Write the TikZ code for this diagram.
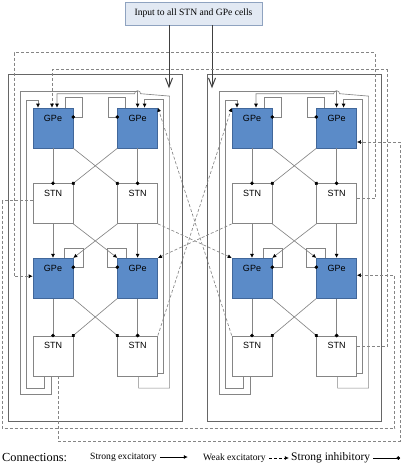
\documentclass[tikz,border=0pt]{standalone}
\usepackage{fontspec}
\setmainfont{Liberation Serif}
\setsansfont{Liberation Sans}
\usetikzlibrary{arrows.meta, positioning, calc}
\definecolor{gpefill}{HTML}{5B8BC8}
\definecolor{gpeline}{HTML}{41679A}
\definecolor{wire}{HTML}{858585}
\definecolor{inputfill}{HTML}{E2E9F3}
\definecolor{inputline}{HTML}{8FA3C0}
\tikzstyle{cell}     = [anchor=north, inner sep=0pt, yshift=-7pt,
                        font=\sffamily\fontsize{9}{10}\selectfont]
\tikzstyle{gpe}      = [rectangle, draw=gpeline, fill=gpefill, line width=0.6pt,
                        minimum width=40pt, minimum height=40pt,
                        label={[cell]north:GPe}]
\tikzstyle{stn}      = [rectangle, draw=wire, fill=white, line width=0.6pt,
                        minimum width=40pt, minimum height=40pt,
                        label={[cell]north:STN}]
\tikzstyle{panelbox} = [rectangle, draw=black!60, line width=0.7pt,
                        minimum width=174pt, minimum height=347pt]
\tikzstyle{inbox}    = [rectangle, draw=inputline, fill=inputfill, line width=0.6pt,
                        minimum width=137pt, minimum height=23pt,
                        font=\rmfamily\fontsize{9.6}{11}\selectfont]
\tikzstyle{legend}   = [anchor=west, inner sep=0pt, font=\rmfamily\fontsize{9.6}{11}\selectfont]
\tikzstyle{wireline} = [draw=wire, line width=0.65pt]
\tikzstyle{exc}      = [wireline, -{Latex[length=4pt,width=4pt,color=black]}]
\tikzstyle{weak}     = [exc, dashed, dash pattern=on 3pt off 2pt]
\tikzstyle{inh}      = [wireline, -{Circle[length=3.6pt,color=black]}, shorten >=-1.8pt]
\tikzstyle{inarrow}  = [draw=black!75, line width=1pt, -{Straight Barb[length=9pt,width=7pt]}]

\begin{document}
\begin{tikzpicture}[x=1pt, y=-1pt, font=\sffamily]
  \useasboundingbox (0,0) rectangle (402,468);

  %% input box
  \node[inbox] (in) at (193.5,13.5) {Input to all STN and GPe cells};

  %% two panels of four GPe and four STN cells
  \foreach \p/\dx in {L/0, R/199} {
    \begin{scope}[shift={(\dx,0)}]
      \node[panelbox] (\p-box) at (95,247.5) {};
      \node[gpe] (\p-g1) at (53,128) {};
    \end{scope}
    \node[gpe, right=44pt of \p-g1] (\p-g2) {};
    \node[stn, below=35pt of \p-g1] (\p-s1) {};
    \node[stn, below=35pt of \p-g2] (\p-s2) {};
    \node[gpe, below=34pt of \p-s1] (\p-g3) {};
    \node[gpe, below=34pt of \p-s2] (\p-g4) {};
    \node[stn, below=37pt of \p-g3] (\p-s3) {};
    \node[stn, below=37pt of \p-g4] (\p-s4) {};

    %% GPe -> STN
    \draw[inh] (\p-g1) -- (\p-s1);
    \draw[inh] (\p-g2) -- (\p-s2);
    \draw[inh] (\p-g1.south east) -- (\p-s2.north west);
    \draw[inh] (\p-g2.south west) -- (\p-s1.north east);
    \draw[inh] (\p-g3) -- (\p-s3);
    \draw[inh] (\p-g4) -- (\p-s4);
    \draw[inh] (\p-g3.south east) -- (\p-s4.north west);
    \draw[inh] (\p-g4.south west) -- (\p-s3.north east);

    %% STN -> GPe
    \draw[exc] (\p-s1) -- (\p-g3);
    \draw[exc] (\p-s2) -- (\p-g4);
    \draw[exc] (\p-s1.south east) -- (\p-g4.north west);
    \draw[exc] (\p-s2.south west) -- (\p-g3.north east);

    %% GPe self loops
    \draw[inh] ([xshift=12pt]\p-g1.north) -- ++(0,-10) -- ++(17,0) |- ([yshift=11pt]\p-g1.east);
    \draw[inh] ([xshift=-12pt]\p-g2.north) -- ++(0,-10) -- ++(-17,0) |- ([yshift=11pt]\p-g2.west);
    \draw[inh] ([xshift=11pt]\p-g3.north) -- ++(0,-10) -- ++(19,0) |- ([yshift=11pt]\p-g3.east);
    \draw[inh] ([xshift=-11pt]\p-g4.north) -- ++(0,-10) -- ++(-19,0) |- ([yshift=11pt]\p-g4.west);

    %% lower STN back up to upper GPe
    \draw[exc] ([xshift=-9pt]\p-s3.south) -- ++(0,12) -- ++(-18,0) -- ++(0,-288) -| ([xshift=-15pt]\p-g1.north);
    \draw[exc] ([xshift=-2pt]\p-s3.south) -- ++(0,18) -- ++(-31,0) -- ++(0,-303) -| (\p-g2.north);
    \draw[exc] ([yshift=-18pt]\p-s4.east) -- ++(5,0) -- ++(0,-274) -| ([xshift=7pt]\p-g2.north);
    \draw[exc] ([xshift=1pt]\p-s4.south) -- ++(0,12) -- ++(31,0) -- ++(0,-292)
      -- ([xshift=3pt,yshift=14pt]\p-g2.north) arc[start angle=0, end angle=180, radius=3pt]
      -| ([xshift=4pt]\p-g1.north);
  }

  %% input arrows
  \draw[inarrow] ([xshift=-24.5pt]in.south) -- ++(0,63);
  \draw[inarrow] ([xshift=18.5pt]in.south) -- ++(0,63);

  %% weak links between the panels
  \draw[weak] (R-s3.north west) -- (L-g2.north east);
  \draw[weak] (L-s4.north east) -- (R-g1.north west);
  \draw[weak] (R-s1.south west) -- (L-g4.north east);
  \draw[weak] (L-s2.south east) -- (R-g3.north west);
  \draw[weak] ([yshift=5pt]R-s2.east) -- ++(18,0) -- ++(0,-146) -- ++(-361,0) |- ([yshift=2pt]L-g3.west);
  \draw[weak] ([yshift=9pt]R-s4.east) -- ++(30,0) -- ++(0,-277) -| ([xshift=-1pt]L-g1.north);
  \draw[weak] ([yshift=3pt]L-s1.west) -- ++(-30,0) -- ++(0,228) -- ++(392,0) |- ([yshift=3pt]R-g4.east);
  \draw[weak] ([xshift=5pt]L-s3.south) -- ++(0,65) -- ++(342,0) |- ([yshift=-14pt]R-g2.east);

  %% legend
  \node[legend, font=\rmfamily\fontsize{12.3}{14}\selectfont] (lgtitle) at (2,458) {Connections:};
  \node[legend] (lgexc) at (90,457) {Strong excitatory};
  \node[legend] (lgweak) at (203,458) {Weak excitatory};
  \node[legend, font=\rmfamily\fontsize{11.5}{13}\selectfont] (lginh) at (291,458) {Strong inhibitory};
  \draw[exc, draw=black] ([xshift=3pt]lgexc.east) -- ++(28,0);
  \draw[weak, draw=black] ([xshift=3pt]lgweak.east) -- ++(20,0);
  \draw[inh, draw=black] ([xshift=3pt]lginh.east) -- ++(25,0);

\end{tikzpicture}
\end{document}
